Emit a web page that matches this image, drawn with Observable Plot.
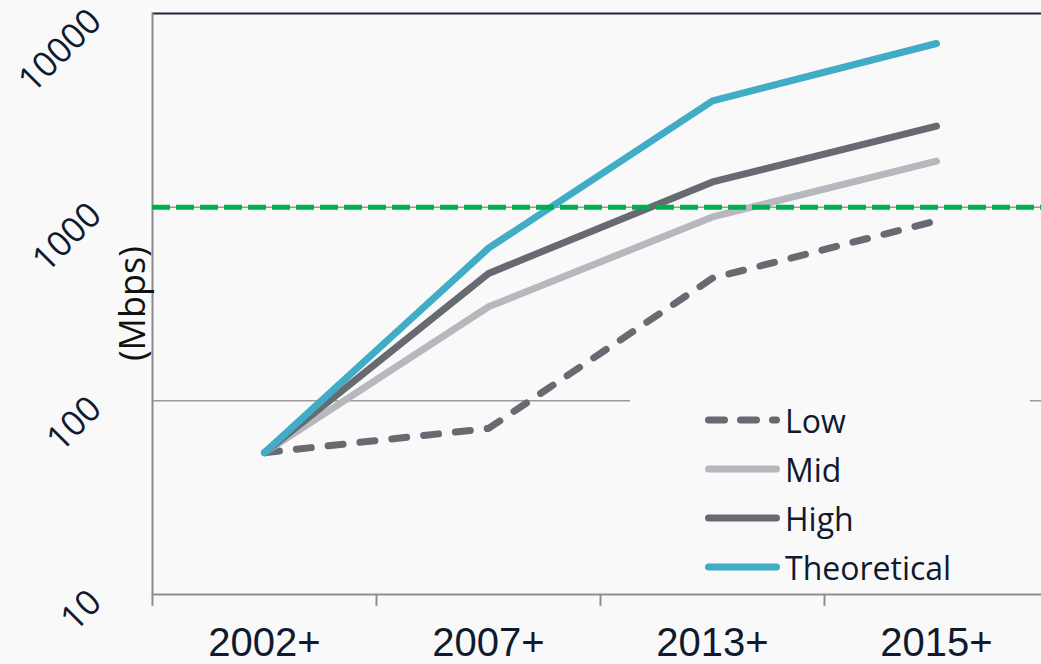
<!DOCTYPE html>
<html><head><meta charset="utf-8">
<script src="https://cdn.jsdelivr.net/npm/d3@7"></script>
<script src="https://cdn.jsdelivr.net/npm/@observablehq/plot@0.6"></script>
<style>
html,body{margin:0;padding:0;background:#f9f9f9;}
#wrap{position:relative;width:1041px;height:664px;overflow:hidden;}
#legend{position:absolute;left:630px;top:396px;width:400px;height:194px;background:#f9f9f9;}
</style></head><body><div id="wrap"><div id="chart"></div><div id="legend"></div></div>
<script>
const categories = ["2002+", "2007+", "2013+", "2015+"];
const low = [54, 72, 430, 850];
const mid = [54, 306, 890, 1730];
const high = [54, 455, 1350, 2620];
const theoretical = [54, 614, 3540, 7000];
const seriesNames = ["Low", "Mid", "High", "Theoretical"];
const seriesColors = ["#686a72", "#b6b8be", "#686a72", "#41acc6"];
const threshold = [1000];
const yTicks = [10, 100, 1000, 10000];
const yLabel = "(Mbps)";

const seriesValues = [low, mid, high, theoretical];
const rows = [];
seriesNames.forEach((s, si) => categories.forEach((c, ci) => rows.push({series: s, category: c, value: seriesValues[si][ci]})));
const colorOf = Object.fromEntries(seriesNames.map((s, i) => [s, seriesColors[i]]));

const ink = "#0f1a2e";
const chart = Plot.plot({
  width: 1041, height: 664,
  marginTop: 13, marginBottom: 70, marginLeft: 152, marginRight: 0,
  style: {background: "#f9f9f9", overflow: "visible"},
  x: {type: "band", domain: categories, range: [152, 1048], padding: 0},
  y: {type: "log", domain: [10, 10000]},
  marks: [
    Plot.ruleY([100, 1000], {stroke: "#9a9a9a", strokeWidth: 1.5}),
    Plot.ruleY([10], {stroke: "#8f8f8f", strokeWidth: 2}),
    Plot.ruleY([10000], {stroke: "#1e2838", strokeWidth: 2}),
    Plot.frame({anchor: "left", stroke: "#8a8a8e", strokeWidth: 2}),
    Plot.line(rows.filter(d => d.series === "Low"), {x: "category", y: "value", stroke: colorOf.Low, strokeWidth: 7, strokeLinecap: "round", strokeLinejoin: "round", strokeDasharray: "15,17"}),
    ...["Mid", "High", "Theoretical"].map(s => Plot.line(rows.filter(d => d.series === s), {x: "category", y: "value", stroke: colorOf[s], strokeWidth: 7, strokeLinecap: "round", strokeLinejoin: "round"})),
    Plot.ruleY(threshold, {stroke: "#00b050", strokeWidth: 5, strokeDasharray: "18,6"}),
    Plot.axisX({tickSize: 0, tickPadding: 33, label: null, fontSize: 40, fontFamily: "Liberation Sans, Arial, sans-serif", fill: ink}),
    Plot.axisX({text: null, tickSize: 12, dx: -112, stroke: "#8f8f8f", strokeWidth: 2, label: null}),
    Plot.axisY({ticks: yTicks, tickFormat: d => String(d), tickSize: 0, tickPadding: 57, dy: 2, rotate: -45, textAnchor: "end", label: null, fontSize: 35, fontFamily: "Open Sans, sans-serif", fill: ink}),
    Plot.text([yLabel], {frameAnchor: "left", rotate: -90, dx: -19, dy: 57, fontSize: 36, fontFamily: "Open Sans, sans-serif", fill: "#111", text: d => d})
  ]
});
document.getElementById("chart").append(chart);

// legend
const lg = d3.select("#legend").append("svg").attr("width", 400).attr("height", 194);
seriesNames.forEach((s, i) => {
  const y = 24 + i * 49;
  lg.append("line").attr("x1", 78.5).attr("x2", 146.5).attr("y1", y).attr("y2", y)
    .attr("stroke", seriesColors[i]).attr("stroke-width", 7).attr("stroke-linecap", "round")
    .attr("stroke-dasharray", s === "Low" ? "16,16" : null);
  lg.append("text").attr("x", 155).attr("y", y).attr("dominant-baseline", "central")
    .attr("font-family", "Open Sans, sans-serif").attr("font-size", 32).attr("fill", ink).text(s);
});
</script></body></html>
